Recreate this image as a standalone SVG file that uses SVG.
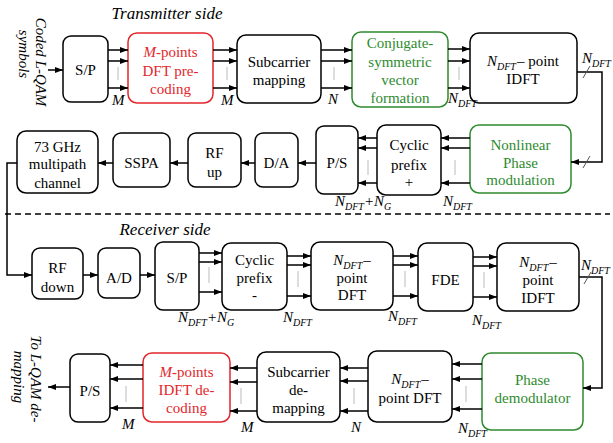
<svg xmlns="http://www.w3.org/2000/svg" width="613" height="443" viewBox="0 0 613 443">
<style>
.box{fill:#fff;stroke:#000;stroke-width:1.5}
.red{stroke:#e3262b}
.green{stroke:#2e8b2e}
text{font-family:"Liberation Serif","Times New Roman",serif;font-size:15px;fill:#000}
.c{text-anchor:middle}
.tr{fill:#e3262b}
.tg{fill:#2e8b2e}
.i{font-style:italic}
.s{font-size:10px;font-style:italic}
.conn path,.conn line{stroke:#000;stroke-width:1.5;fill:none}
.conn .sep{stroke:#bbb;stroke-width:1}
.conn .sl{stroke:#555;stroke-width:1}
.dash{stroke:#000;stroke-width:1.5;stroke-dasharray:6,4}
</style>
<defs>
<marker id="ah" markerWidth="8" markerHeight="6" refX="8" refY="3" orient="auto" markerUnits="userSpaceOnUse"><path d="M0,0 L8,3 L0,6 z" fill="#000"/></marker>
</defs>

<text class="c i" x="167" y="19" style="font-size:17px">Transmitter side</text>
<text class="c i" x="165" y="235" style="font-size:17px">Receiver side</text>
<text class="c i" transform="translate(36,62) rotate(90)">Coded L-QAM</text>
<text class="c i" transform="translate(19,54) rotate(90)">symbols</text>
<text class="c i" transform="translate(31,379) rotate(90)">To L-QAM de-</text>
<text class="c i" transform="translate(14,377) rotate(90)">mapping</text>

<line class="dash" x1="5" y1="214" x2="610" y2="214"/>

<!-- Row 1 -->
<g id="sp1"><rect class="box" x="63" y="36" width="45" height="66" rx="8"/><text class="c" x="85.5" y="75">S/P</text></g>
<g id="dftpre"><rect class="box red" x="128" y="33" width="85" height="70" rx="9"/>
<text class="c tr" x="170.5" y="57"><tspan class="i">M</tspan>-points</text>
<text class="c tr" x="170.5" y="76">DFT pre-</text>
<text class="c tr" x="170.5" y="94">coding</text></g>
<g id="submap"><rect class="box" x="237" y="35" width="84" height="68" rx="9"/>
<text class="c" x="279" y="67">Subcarrier</text><text class="c" x="279" y="85">mapping</text></g>
<g id="conj"><rect class="box green" x="352" y="32" width="96" height="75" rx="9"/>
<text class="c tg" x="400" y="48">Conjugate-</text>
<text class="c tg" x="400" y="67">symmetric</text>
<text class="c tg" x="400" y="85">vector</text>
<text class="c tg" x="400" y="103">formation</text></g>
<g id="idft1"><rect class="box" x="470" y="33" width="107" height="70" rx="9"/>
<text class="c" x="523" y="66"><tspan class="i">N</tspan><tspan class="s" dy="4">DFT</tspan><tspan dx="1" dy="-4">– point</tspan></text>
<text class="c" x="523" y="84">IDFT</text></g>

<!-- Row 2 -->
<g id="nlpm"><rect class="box green" x="470" y="125" width="101" height="68" rx="9"/>
<text class="c tg" x="520.5" y="150">Nonlinear</text>
<text class="c tg" x="520.5" y="168">Phase</text>
<text class="c tg" x="520.5" y="185">modulation</text></g>
<g id="cpadd"><rect class="box" x="377" y="125" width="64" height="70" rx="9"/>
<text class="c" x="409" y="150">Cyclic</text><text class="c" x="409" y="170">prefix</text><text class="c" x="409" y="187">+</text></g>
<g id="ps1"><rect class="box" x="316" y="126" width="42" height="68" rx="8"/><text class="c" x="337" y="168">P/S</text></g>
<g id="da"><rect class="box" x="255" y="133" width="43" height="54" rx="8"/><text class="c" x="276.5" y="168">D/A</text></g>
<g id="rfup"><rect class="box" x="188" y="133" width="53" height="54" rx="8"/><text class="c" x="214.5" y="158">RF</text><text class="c" x="214.5" y="177">up</text></g>
<g id="sspa"><rect class="box" x="113" y="133" width="57" height="54" rx="8"/><text class="c" x="141.5" y="168">SSPA</text></g>
<g id="chan"><rect class="box" x="17" y="131" width="81" height="62" rx="9"/>
<text class="c" x="57.5" y="152">73 GHz</text><text class="c" x="57.5" y="169">multipath</text><text class="c" x="57.5" y="188">channel</text></g>

<!-- Row 3 -->
<g id="rfdown"><rect class="box" x="32" y="248" width="51" height="51" rx="8"/><text class="c" x="57.5" y="273">RF</text><text class="c" x="57.5" y="292">down</text></g>
<g id="ad"><rect class="box" x="98" y="248" width="42" height="50" rx="8"/><text class="c" x="119" y="283">A/D</text></g>
<g id="sp2"><rect class="box" x="155" y="242" width="44" height="68" rx="8"/><text class="c" x="177" y="283">S/P</text></g>
<g id="cprem"><rect class="box" x="222" y="243" width="65" height="67" rx="9"/>
<text class="c" x="254.5" y="265">Cyclic</text><text class="c" x="254.5" y="283">prefix</text><text class="c" x="254.5" y="300">-</text></g>
<g id="dft2"><rect class="box" x="311" y="242" width="82" height="68" rx="9"/>
<text class="c" x="352" y="265"><tspan class="i">N</tspan><tspan class="s" dy="4">DFT</tspan><tspan dx="1" dy="-4">–</tspan></text>
<text class="c" x="352" y="283">point</text><text class="c" x="352" y="300">DFT</text></g>
<g id="fde"><rect class="box" x="418" y="243" width="55" height="68" rx="9"/><text class="c" x="445.5" y="285">FDE</text></g>
<g id="idft2"><rect class="box" x="497" y="243" width="82" height="68" rx="9"/>
<text class="c" x="538" y="267"><tspan class="i">N</tspan><tspan class="s" dy="4">DFT</tspan><tspan dx="1" dy="-4">–</tspan></text>
<text class="c" x="538" y="285">point</text><text class="c" x="538" y="303">IDFT</text></g>

<!-- Row 4 -->
<g id="phdem"><rect class="box green" x="482" y="353" width="101" height="77" rx="9"/>
<text class="c tg" x="532.5" y="385">Phase</text><text class="c tg" x="532.5" y="403">demodulator</text></g>
<g id="dft3"><rect class="box" x="368" y="351" width="84" height="71" rx="9"/>
<text class="c" x="410" y="384"><tspan class="i">N</tspan><tspan class="s" dy="4">DFT</tspan><tspan dx="1" dy="-4">–</tspan></text>
<text class="c" x="410" y="403">point DFT</text></g>
<g id="subdemap"><rect class="box" x="257" y="352" width="83" height="70" rx="9"/>
<text class="c" x="298.5" y="377">Subcarrier</text><text class="c" x="298.5" y="395">de-</text><text class="c" x="298.5" y="413">mapping</text></g>
<g id="idftdec"><rect class="box red" x="143" y="353" width="87" height="69" rx="9"/>
<text class="c tr" x="186.5" y="377"><tspan class="i">M</tspan>-points</text>
<text class="c tr" x="186.5" y="395">IDFT de-</text>
<text class="c tr" x="186.5" y="413">coding</text></g>
<g id="ps2"><rect class="box" x="70" y="354" width="40" height="68" rx="8"/><text class="c" x="90" y="396">P/S</text></g>

<!-- labels -->
<g id="labels">
<text class="i" x="112" y="105">M</text>
<text class="i" x="221" y="105">M</text>
<text class="i" x="328" y="104">N</text>
<text class="i" x="448" y="103">N<tspan class="s" dy="4">DFT</tspan></text>
<text class="i" x="582" y="63">N<tspan class="s" dy="4">DFT</tspan></text>
<text class="i" x="335" y="206">N<tspan class="s" dy="4">DFT</tspan><tspan dy="-4">+N</tspan><tspan class="s" dy="4">G</tspan></text>
<text class="i" x="443" y="206">N<tspan class="s" dy="4">DFT</tspan></text>
<text class="i" x="178" y="322">N<tspan class="s" dy="4">DFT</tspan><tspan dy="-4">+N</tspan><tspan class="s" dy="4">G</tspan></text>
<text class="i" x="283" y="322">N<tspan class="s" dy="4">DFT</tspan></text>
<text class="i" x="388" y="321">N<tspan class="s" dy="4">DFT</tspan></text>
<text class="i" x="472" y="325">N<tspan class="s" dy="4">DFT</tspan></text>
<text class="i" x="581" y="270">N<tspan class="s" dy="4">DFT</tspan></text>
<text class="i" x="458" y="433">N<tspan class="s" dy="4">DFT</tspan></text>
<text class="i" x="351" y="432">N</text>
<text class="i" x="241" y="432">M</text>
<text class="i" x="122" y="429">M</text>
</g>

<g class="conn" id="connectors">
<line x1="48" y1="70" x2="63" y2="70" marker-end="url(#ah)"/>
<line x1="108" y1="50" x2="128" y2="50" marker-end="url(#ah)"/><line x1="108" y1="61" x2="128" y2="61" marker-end="url(#ah)"/><line x1="108" y1="88" x2="128" y2="88" marker-end="url(#ah)"/><line class="sep" x1="118" y1="67" x2="118" y2="80"/>
<line x1="213" y1="50" x2="237" y2="50" marker-end="url(#ah)"/><line x1="213" y1="61" x2="237" y2="61" marker-end="url(#ah)"/><line x1="213" y1="88" x2="237" y2="88" marker-end="url(#ah)"/><line class="sep" x1="227" y1="67" x2="227" y2="80"/>
<line x1="321" y1="50" x2="352" y2="50" marker-end="url(#ah)"/><line x1="321" y1="61" x2="352" y2="61" marker-end="url(#ah)"/><line x1="321" y1="88" x2="352" y2="88" marker-end="url(#ah)"/><line class="sep" x1="334" y1="67" x2="334" y2="80"/>
<line x1="448" y1="49" x2="470" y2="49" marker-end="url(#ah)"/><line x1="448" y1="61" x2="470" y2="61" marker-end="url(#ah)"/><line x1="448" y1="88" x2="470" y2="88" marker-end="url(#ah)"/><line class="sep" x1="459" y1="67" x2="459" y2="80"/>
<path d="M577,72 H602 V162 H571" marker-end="url(#ah)"/>
<line class="sl" x1="583" y1="78" x2="590" y2="66"/>
<line class="sl" x1="583" y1="168" x2="590" y2="156"/>

<line x1="470" y1="138" x2="441" y2="138" marker-end="url(#ah)"/><line x1="470" y1="148" x2="441" y2="148" marker-end="url(#ah)"/><line x1="470" y1="183" x2="441" y2="183" marker-end="url(#ah)"/><line class="sep" x1="455" y1="160" x2="455" y2="175"/>
<line x1="377" y1="138" x2="358" y2="138" marker-end="url(#ah)"/><line x1="377" y1="148" x2="358" y2="148" marker-end="url(#ah)"/><line x1="377" y1="183" x2="358" y2="183" marker-end="url(#ah)"/><line class="sep" x1="368" y1="160" x2="368" y2="175"/>
<line x1="316" y1="163" x2="298" y2="163" marker-end="url(#ah)"/>
<line x1="255" y1="163" x2="241" y2="163" marker-end="url(#ah)"/>
<line x1="188" y1="163" x2="170" y2="163" marker-end="url(#ah)"/>
<line x1="113" y1="163" x2="98" y2="163" marker-end="url(#ah)"/>
<path d="M17,163 H7 V275 H32" marker-end="url(#ah)"/>

<line x1="83" y1="275" x2="98" y2="275" marker-end="url(#ah)"/>
<line x1="140" y1="275" x2="155" y2="275" marker-end="url(#ah)"/>
<line x1="199" y1="253" x2="222" y2="253" marker-end="url(#ah)"/><line x1="199" y1="262" x2="222" y2="262" marker-end="url(#ah)"/><line x1="199" y1="292" x2="222" y2="292" marker-end="url(#ah)"/><line class="sep" x1="209" y1="267" x2="209" y2="283"/>
<line x1="287" y1="256" x2="311" y2="256" marker-end="url(#ah)"/><line x1="287" y1="265" x2="311" y2="265" marker-end="url(#ah)"/><line x1="287" y1="296" x2="311" y2="296" marker-end="url(#ah)"/><line class="sep" x1="298" y1="271" x2="298" y2="287"/>
<line x1="393" y1="256" x2="418" y2="256" marker-end="url(#ah)"/><line x1="393" y1="265" x2="418" y2="265" marker-end="url(#ah)"/><line x1="393" y1="296" x2="418" y2="296" marker-end="url(#ah)"/><line class="sep" x1="405" y1="271" x2="405" y2="287"/>
<line x1="473" y1="257" x2="497" y2="257" marker-end="url(#ah)"/><line x1="473" y1="266" x2="497" y2="266" marker-end="url(#ah)"/><line x1="473" y1="297" x2="497" y2="297" marker-end="url(#ah)"/><line class="sep" x1="484" y1="272" x2="484" y2="288"/>
<path d="M579,277 H602 V388 H583" marker-end="url(#ah)"/>
<line class="sl" x1="584" y1="284" x2="591" y2="272"/>

<line x1="482" y1="364" x2="452" y2="364" marker-end="url(#ah)"/><line x1="482" y1="379" x2="452" y2="379" marker-end="url(#ah)"/><line x1="482" y1="409" x2="452" y2="409" marker-end="url(#ah)"/><line class="sep" x1="466" y1="386" x2="466" y2="402"/>
<line x1="368" y1="368" x2="340" y2="368" marker-end="url(#ah)"/><line x1="368" y1="381" x2="340" y2="381" marker-end="url(#ah)"/><line x1="368" y1="411" x2="340" y2="411" marker-end="url(#ah)"/><line class="sep" x1="354" y1="388" x2="354" y2="404"/>
<line x1="257" y1="368" x2="230" y2="368" marker-end="url(#ah)"/><line x1="257" y1="382" x2="230" y2="382" marker-end="url(#ah)"/><line x1="257" y1="411" x2="230" y2="411" marker-end="url(#ah)"/><line class="sep" x1="241" y1="388" x2="241" y2="404"/>
<line x1="143" y1="365" x2="110" y2="365" marker-end="url(#ah)"/><line x1="143" y1="379" x2="110" y2="379" marker-end="url(#ah)"/><line x1="143" y1="408" x2="110" y2="408" marker-end="url(#ah)"/><line class="sep" x1="126" y1="386" x2="126" y2="402"/>
<line x1="70" y1="387" x2="48" y2="387" marker-end="url(#ah)"/>
</g>
</svg>
